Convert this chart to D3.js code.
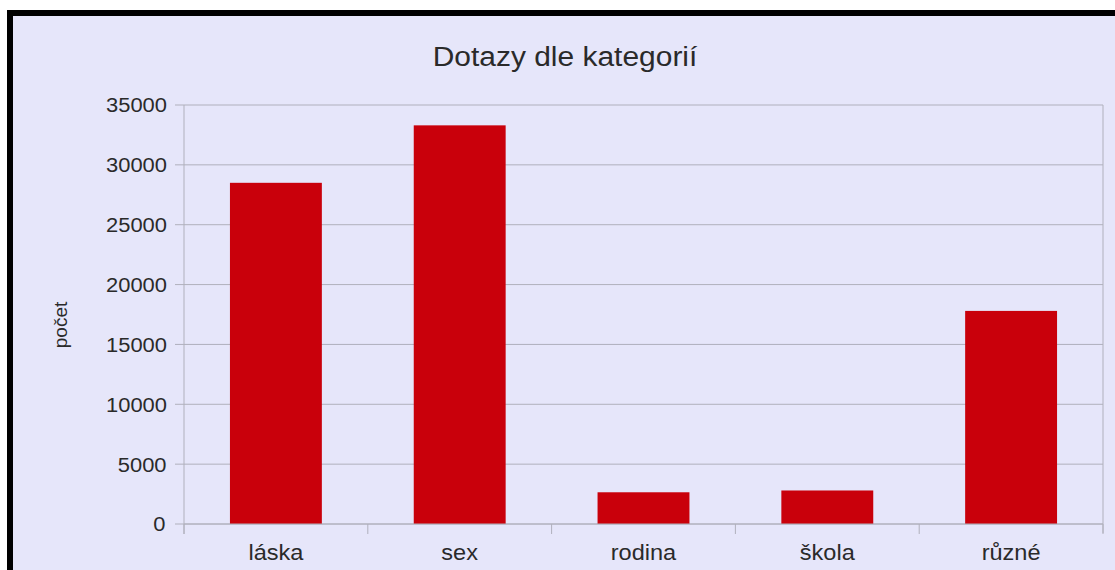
<!DOCTYPE html>
<html>
<head>
<meta charset="utf-8">
<script src="https://cdn.jsdelivr.net/npm/d3@7"></script>
<style>
  html, body { margin: 0; padding: 0; background: #ffffff; }
  svg { display: block; }
  text { font-family: "Liberation Sans", Arial, sans-serif; fill: #2a2a2a; }
  .stretch { transform-box: fill-box; transform-origin: center; transform: scaleX(1.07); }
</style>
</head>
<body>
<svg id="chart" width="1115" height="570"></svg>
<script>
const categories = ["láska", "sex", "rodina", "škola", "různé"];
const counts = [28500, 33300, 2650, 2800, 17800];
const yTicks = [0, 5000, 10000, 15000, 20000, 25000, 30000, 35000];
const chartTitle = "Dotazy dle kategorií";
const yTitle = "počet";

const svg = d3.select("#chart");
const W = 1115, H = 570;
const plot = { left: 184, right: 1103, top: 105, bottom: 524 };

// frame
svg.append("rect")
  .attr("x", 10).attr("y", 13)
  .attr("width", W + 40).attr("height", H + 40)
  .attr("fill", "#e6e6fa")
  .attr("stroke", "#000").attr("stroke-width", 6);

const x = d3.scaleBand().domain(categories)
  .range([plot.left, plot.right]).paddingInner(0.5).paddingOuter(0.25);
const y = d3.scaleLinear().domain([0, 35000]).range([plot.bottom, plot.top]);

const gridColor = "#b0b0bc";

// gridlines + left ticks
svg.append("g").selectAll("line").data(yTicks).join("line")
  .attr("x1", plot.left - 9).attr("x2", plot.right)
  .attr("y1", d => y(d)).attr("y2", d => y(d))
  .attr("stroke", gridColor).attr("stroke-width", 1);

// right border of plot
svg.append("line")
  .attr("x1", plot.right).attr("x2", plot.right)
  .attr("y1", y(35000)).attr("y2", plot.bottom + 9)
  .attr("stroke", gridColor);

// bars
svg.append("g").selectAll("rect").data(categories).join("rect")
  .attr("x", d => x(d))
  .attr("width", x.bandwidth())
  .attr("y", (d, i) => y(counts[i]))
  .attr("height", (d, i) => y(0) - y(counts[i]))
  .attr("fill", "#c9000b");

// left axis line
svg.append("line")
  .attr("x1", plot.left).attr("x2", plot.left)
  .attr("y1", y(35000)).attr("y2", plot.bottom + 10)
  .attr("stroke", gridColor);

// x axis line (baseline)
svg.append("line")
  .attr("x1", plot.left).attr("x2", plot.right)
  .attr("y1", y(0)).attr("y2", y(0))
  .attr("stroke", gridColor);

// x boundary ticks
const bounds = categories.map(c => x(c) - x.step() * 0.25).concat([plot.right]);
svg.append("g").selectAll("line").data(bounds).join("line")
  .attr("x1", d => d).attr("x2", d => d)
  .attr("y1", y(0)).attr("y2", y(0) + 10)
  .attr("stroke", gridColor);

// y tick labels
svg.append("g").selectAll("text").data(yTicks).join("text")
  .attr("class", "stretch")
  .attr("x", plot.left - 19)
  .attr("y", d => y(d))
  .attr("dy", "0.36em")
  .attr("text-anchor", "end")
  .attr("font-size", 20.5)
  .text(d => d);

// category labels
svg.append("g").selectAll("text").data(categories).join("text")
  .attr("class", "stretch")
  .attr("x", d => x(d) + x.bandwidth() / 2)
  .attr("y", 560)
  .attr("text-anchor", "middle")
  .attr("font-size", 22)
  .text(d => d);

// title
svg.append("text")
  .attr("class", "stretch")
  .attr("x", 565).attr("y", 66)
  .attr("text-anchor", "middle")
  .attr("font-size", 28)
  .text(chartTitle);

// y axis title
svg.append("text")
  .attr("transform", "translate(67,325) rotate(-90)")
  .attr("text-anchor", "middle")
  .attr("font-size", 19)
  .text(yTitle);
</script>
</body>
</html>
